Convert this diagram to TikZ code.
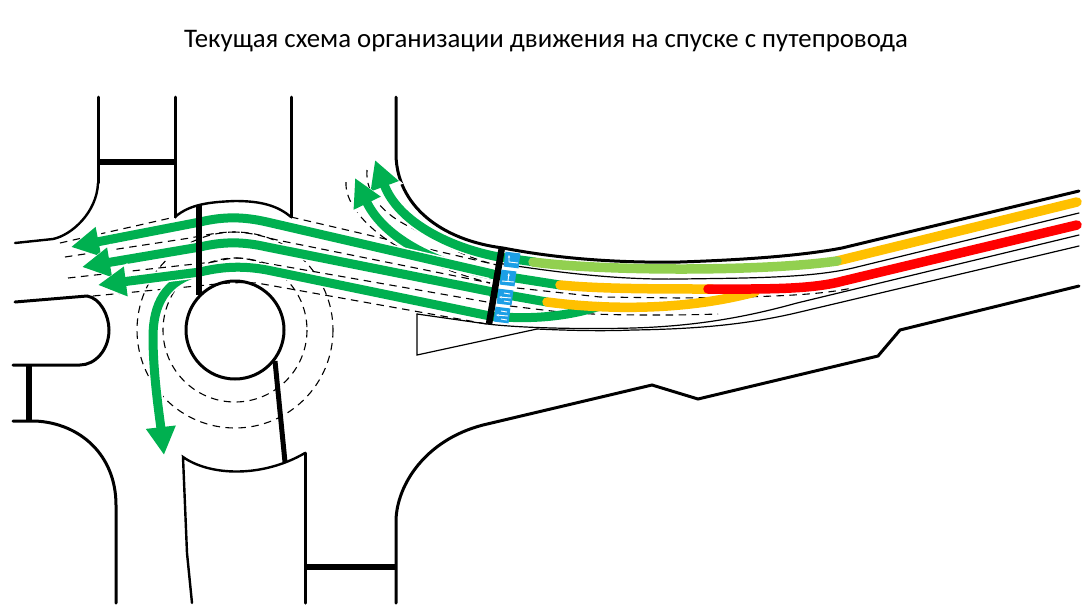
\documentclass[tikz,border=0pt]{standalone}
\usepackage{fontspec}
\setmainfont{Carlito}
\usetikzlibrary{arrows.meta}
\definecolor{flowgreen}{HTML}{00B050}
\definecolor{freegreen}{HTML}{92D050}
\definecolor{slowamber}{HTML}{FFC000}
\definecolor{jamred}{HTML}{FF0000}
\definecolor{signblue}{HTML}{1C9FE6}
\tikzset{
every picture/.style={x=1pt, y=-1pt, line cap=round},
%%%%%%%%%%  Node styles
titlenode/.style={font=\fontsize{26.8}{30}\selectfont, inner sep=0, anchor=base},
roadsign/.style={fill=signblue, minimum size=15pt, inner sep=0, rotate=-7},
%%%% different line styles:
kerb/.style={line width=3pt},
kerbthin/.style={line width=2.4pt},
stopbar/.style={line width=6.5pt, line cap=butt},
edgeline/.style={line width=1.2pt},
laneline/.style={line width=1.1pt, dash pattern=on 7.5pt off 5.5pt, line cap=butt},
%%%%%%% Traffic
flow/.style={draw=flowgreen, line width=9pt, line cap=butt,
             -{Triangle[length=28pt,width=28pt]},
             preaction={draw=white, line width=12pt,
                        -{Triangle[length=32pt,width=34pt]}}},
plainflow/.style={draw=flowgreen, line width=9pt, line cap=butt},
traffic/.style={line width=9.5pt, line cap=round},
signmark/.style={draw=white, line width=0.9pt, line cap=butt}
}
\begin{document}
\begin{tikzpicture}
\useasboundingbox (0,0) rectangle (1084,606);
\node[titlenode] (title) at (546,47) {Текущая схема организации движения на спуске с путепровода};
%%%% road edges
\draw[kerbthin] (98,183) .. controls (97,212) and (72,235) .. (53,239) -- (15,243);
\draw[kerb] (98,97) -- (98,183);
\draw[kerb] (175,97) -- (175,217);
\draw[kerb] (291,97) -- (291,217);
\draw[kerbthin] (175,217) .. controls (190,204) and (210,202) .. (235,201) .. controls (262,201) and (278,206) .. (291,217);
\draw[kerb] (396,97) -- (396,155) .. controls (397,205) and (440,240) .. (503,248)
  .. controls (560,259) and (620,263) .. (680,262) .. controls (740,260) and (800,256) .. (842,248) -- (1079,191);
\draw[kerb] (15,302) -- (87,296) .. controls (100,298) and (109,315) .. (109,330) .. controls (109,350) and (95,365) .. (80,365) -- (13,365);
\draw[kerb] (13,421) -- (35,421) .. controls (80,423) and (116,455) .. (116,505) -- (116,603);
\draw[kerbthin] (192,603) -- (187,553) -- (183,457) .. controls (210,476) and (262,478) .. (305,453);
\draw[kerb] (305,453) -- (305,603);
\draw[kerb] (396,603) -- (396,520) .. controls (397,485) and (425,440) .. (483,425) -- (652,385) -- (698,399) -- (878,356) -- (900,330) -- (1079,286);
\draw[kerb] (235,330) circle (49);
%%%% thin edges of the carriageway
\draw[edgeline] (497,263) .. controls (560,273) and (620,280) .. (680,279) .. controls (750,278) and (810,278) .. (853,268) -- (1079,213);
\draw[edgeline] (417,314) -- (487,324) .. controls (530,329) and (600,329) .. (633,328) .. controls (700,326) and (750,316) .. (797,303) -- (1079,235);
\draw[edgeline] (537,329) .. controls (580,331) and (610,331) .. (633,330) .. controls (700,329) and (750,324) .. (800,312) -- (1079,246);
\draw[edgeline] (417,314) -- (417,355) -- (537,329);
%%%% lane lines
\draw[laneline] (235,330) circle (72);
\draw[laneline] (235,330) circle (98);
\draw[laneline] (60,243) -- (175,217);
\draw[laneline] (291,217) -- (497,265);
\draw[laneline] (65,257) -- (190,238) .. controls (205,235) and (220,232) .. (233,232) .. controls (250,232) and (265,237) .. (277,240) -- (490,283);
\draw[laneline] (68,278) -- (213,262) .. controls (222,260) and (230,258) .. (237,258) .. controls (245,258) and (255,260) .. (265,263) -- (487,302);
\draw[laneline] (93,296) -- (207,285) .. controls (225,283) and (240,282) .. (257,283) -- (487,324);
\draw[laneline] (517,288) -- (600,297) -- (680,298) .. controls (760,297) and (815,296) .. (852,288);
\draw[laneline] (510,306) -- (560,312) .. controls (590,315) and (660,316) .. (718,314);
\draw[laneline] (346,182) .. controls (345,200) and (360,220) .. (383,237) .. controls (400,250) and (440,270) .. (490,283);
\draw[laneline] (367,170) .. controls (365,195) and (385,215) .. (410,227) .. controls (435,240) and (465,258) .. (497,265);
%%%% green flows towards the junction
\draw[flow] (499,257) .. controls (450,248) and (398,222) .. (375,160);
\draw[flow] (497,276) .. controls (440,266) and (385,240) .. (355,178);
\draw[flow] (200,272) .. controls (165,280) and (153,305) .. (153,337) .. controls (153,375) and (160,420) .. (164,455);
\draw[flow] (493,274) -- (267,222) .. controls (245,217) and (225,216) .. (200,222) -- (71,247);
\draw[flow] (493,292) -- (267,247) .. controls (245,242) and (225,241) .. (200,247) -- (82,267);
\draw[flow] (490,316) -- (267,270) .. controls (245,266) and (225,266) .. (200,272) -- (98,285);
\draw[plainflow] (490,274) -- (560,285);
\draw[plainflow] (490,292) -- (547,302);
\draw[plainflow] (490,316) .. controls (520,319) and (560,319) .. (600,306);
\draw[plainflow] (499,257) -- (535,262);
%%%% speeds on the ramp
\draw[traffic, slowamber] (837,261) -- (1077,202);
\draw[traffic, freegreen] (533,262) .. controls (600,271) and (760,272) .. (837,261);
\draw[traffic, slowamber] (547,302) .. controls (600,309) and (680,312) .. (755,292);
\draw[traffic, slowamber] (560,285) .. controls (600,289) and (660,289) .. (712,289);
\draw[traffic, jamred] (708,289) .. controls (760,289) and (810,290) .. (843,281) -- (1077,225);
%%%% stop lines
\draw[stopbar] (199,205) -- (199,295);
\draw[stopbar] (98,162) -- (175,162);
\draw[stopbar] (29,365) -- (29,421);
\draw[stopbar] (305,567) -- (396,567);
\draw[stopbar, line width=5pt] (275,361) -- (285,462);
\draw[stopbar] (502,247) -- (489,324);
%%%% lane signs
\node[roadsign] (signa) at (512,260) {};
\node[roadsign] (signb) at (508,278) {};
\node[roadsign] (signc) at (505,297) {};
\node[roadsign] (signd) at (502,315) {};
\draw[signmark, -{Stealth[length=3pt]}] ([shift={(6,3)}]signa.center) -- ([shift={(-3,2)}]signa.center) -- ([shift={(-3,-5)}]signa.center);
\draw[signmark, -{Stealth[length=3pt]}] ([shift={(0,3)}]signb.center) -- ([shift={(1,-5)}]signb.center);
\draw[signmark] ([shift={(-6,3)}]signb.center) -- ([shift={(6,4)}]signb.center);
\foreach \n in {signc,signd}{
  \draw[signmark, -{Stealth[length=3pt]}] ([shift={(6,1)}]\n.center) -- ([shift={(-6,0)}]\n.center);
  \draw[signmark] ([shift={(-1,-4)}]\n.center) -- ([shift={(5,-3)}]\n.center);
  \draw[signmark] ([shift={(-1,4)}]\n.center) -- ([shift={(5,5)}]\n.center);
}
\end{tikzpicture}
\end{document}
